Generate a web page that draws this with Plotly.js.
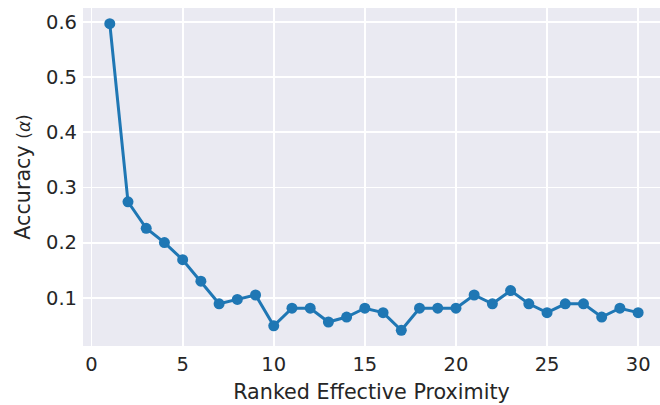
<!DOCTYPE html>
<html>
<head>
<meta charset="utf-8">
<script src="https://cdn.plot.ly/plotly-3.0.1.min.js"></script>
<style>html,body{margin:0;padding:0;overflow:hidden;background:#fff}</style>
</head>
<body>
<div id="chart" style="width:660px;height:405px"></div>
<script>
const rank = [1,2,3,4,5,6,7,8,9,10,11,12,13,14,15,16,17,18,19,20,21,22,23,24,25,26,27,28,29,30];
const accuracy = [0.597,0.274,0.226,0.200,0.169,0.130,0.089,0.097,0.105,0.049,0.081,0.081,0.056,0.065,0.081,0.073,0.041,0.081,0.081,0.081,0.105,0.089,0.113,0.089,0.073,0.089,0.089,0.065,0.081,0.073];
const xTicks = [0,5,10,15,20,25,30];
const yTicks = [0.1,0.2,0.3,0.4,0.5,0.6];
const xLabel = 'Ranked Effective Proximity';
const yLabel = 'Accuracy <span style="font-size:17px">(<i>α</i>)</span>';

const txt = '#262626';
Plotly.newPlot('chart', [{
  x: rank, y: accuracy, type: 'scatter', mode: 'lines+markers',
  line: {color: '#1f77b4', width: 3},
  marker: {color: '#1f77b4', size: 11}
}], {
  width: 660, height: 405,
  margin: {l: 83, r: 0, t: 8, b: 59},
  paper_bgcolor: '#ffffff', plot_bgcolor: '#EAEAF2',
  font: {family: 'DejaVu Sans', color: txt, size: 19.5},
  showlegend: false,
  xaxis: {
    range: [-0.47, 31.2], tickvals: xTicks, ticktext: xTicks.map(String),
    showgrid: true, gridcolor: '#ffffff', gridwidth: 1.8, zeroline: false,
    showline: false, ticks: '', ticklabelstandoff: 4,
    tickfont: {size: 19.5, color: txt},
    title: {text: xLabel, font: {size: 20.7, color: txt}, standoff: 10}
  },
  yaxis: {
    range: [0.0125, 0.6255], tickvals: yTicks, ticktext: yTicks.map(v => v.toFixed(1)),
    showgrid: true, gridcolor: '#ffffff', gridwidth: 1.8, zeroline: false,
    showline: false, ticks: '', ticklabelstandoff: 5,
    tickfont: {size: 19.5, color: txt},
    title: {text: yLabel, font: {size: 20.7, color: txt}, standoff: 9}
  }
}, {displayModeBar: false, staticPlot: true});
</script>
</body>
</html>
